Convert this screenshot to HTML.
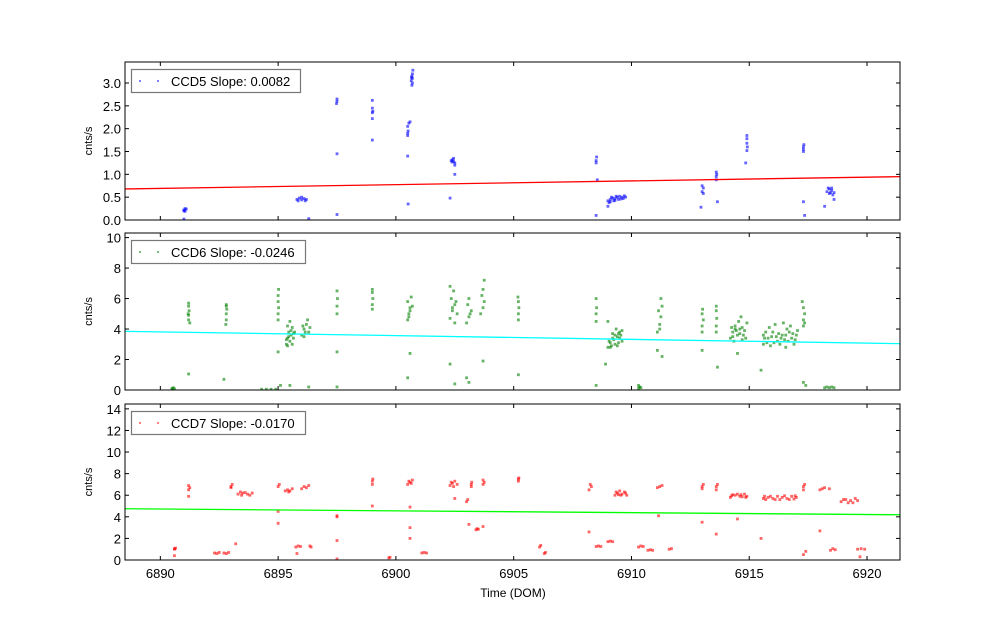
<!DOCTYPE html>
<html><head><meta charset="utf-8"><style>
body{margin:0;background:#fff}
svg text{font-family:"Liberation Sans",sans-serif;fill:#000}
</style></head><body>
<svg id="chart" width="1000" height="624" viewBox="0 0 1000 624" xmlns="http://www.w3.org/2000/svg"></svg>
<script>
const xTicks=[6890,6895,6900,6905,6910,6915,6920];
const ccd5Ticks=[0,0.5,1.0,1.5,2.0,2.5,3.0];
const ccd6Ticks=[0,2,4,6,8,10];
const ccd7Ticks=[0,2,4,6,8,10,12,14];
const slopes=[0.0082,-0.0246,-0.0170];
const intercepts=[0.68,3.85,4.75];
const labels=["CCD5 Slope: 0.0082","CCD6 Slope: -0.0246","CCD7 Slope: -0.0170"];
const ccd5Points=[[6891.0,0.22],[6891.05,0.25],[6891.0,0.2],[6891.1,0.24],[6891.05,0.19],[6891.0,0.02],
[6895.8,0.45],[6895.9,0.48],[6896.0,0.44],[6896.1,0.47],[6896.2,0.45],[6896.0,0.5],[6895.85,0.42],[6896.15,0.42],[6896.3,0.03],
[6897.5,2.6],[6897.5,2.65],[6897.48,2.55],[6897.5,1.45],[6897.5,0.12],
[6899.0,2.62],[6899.0,2.45],[6899.02,2.38],[6899.0,2.35],[6899.0,2.22],[6899.0,1.75],
[6900.5,1.9],[6900.52,1.95],[6900.5,2.05],[6900.55,2.12],[6900.5,1.85],[6900.6,2.15],[6900.5,1.4],[6900.52,0.35],
[6900.65,3.05],[6900.7,3.1],[6900.68,3.15],[6900.7,3.2],[6900.72,3.28],[6900.68,2.95],[6900.7,3.0],[6900.66,3.12],
[6902.35,1.3],[6902.4,1.32],[6902.45,1.28],[6902.5,1.25],[6902.45,1.35],[6902.5,1.2],[6902.5,1.0],[6902.3,0.48],[6902.38,1.27],
[6908.5,1.25],[6908.5,1.3],[6908.52,1.38],[6908.55,0.88],[6908.5,0.1],
[6909.0,0.42],[6909.1,0.45],[6909.2,0.48],[6909.3,0.47],[6909.4,0.5],[6909.5,0.52],[6909.6,0.5],[6909.7,0.53],[6909.15,0.5],[6909.45,0.45],[6909.05,0.38],[6909.25,0.42],[6909.55,0.46],[6909.0,0.3],
[6909.35,0.52],[6909.65,0.47],[6909.75,0.5],[6909.1,0.4],[6909.3,0.43],
[6913.0,0.62],[6913.05,0.7],[6913.0,0.75],[6913.05,0.58],[6912.95,0.28],
[6913.6,0.95],[6913.62,1.0],[6913.6,1.05],[6913.6,0.88],[6913.65,0.4],
[6914.9,1.85],[6914.9,1.78],[6914.9,1.68],[6914.92,1.6],[6914.9,1.52],[6914.85,1.25],
[6917.3,1.55],[6917.3,1.6],[6917.32,1.65],[6917.3,1.5],[6917.3,0.4],[6917.35,0.1],
[6918.3,0.62],[6918.4,0.68],[6918.5,0.65],[6918.6,0.6],[6918.35,0.7],[6918.55,0.55],[6918.45,0.6],[6918.2,0.3],[6918.6,0.45],[6918.4,0.58],[6918.5,0.7]];
const ccd6Points=[[6890.5,0.1],[6890.55,0.15],[6890.6,0.08],[6890.5,0.05],
[6891.2,4.6],[6891.2,4.9],[6891.22,5.2],[6891.2,5.5],[6891.25,4.4],[6891.2,5.7],[6891.18,5.0],[6891.2,1.05],
[6892.8,4.6],[6892.8,5.0],[6892.82,5.3],[6892.8,5.6],[6892.78,4.3],[6892.8,5.5],[6892.7,0.7],
[6894.3,0.05],[6894.5,0.05],[6894.7,0.05],[6894.9,0.05],
[6895.0,4.6],[6895.0,5.0],[6895.02,5.4],[6895.0,5.8],[6895.0,6.2],[6895.02,6.6],[6895.0,2.5],[6895.1,0.3],
[6895.35,3.0],[6895.4,3.4],[6895.45,3.8],[6895.5,3.2],[6895.55,3.6],[6895.6,4.1],[6895.65,3.4],[6895.5,4.5],[6895.4,2.9],[6895.6,3.0],[6895.7,3.8],[6895.45,3.5],[6895.5,0.3],
[6895.55,3.9],[6895.35,3.3],[6895.65,3.7],[6895.4,4.2],
[6896.0,3.6],[6896.1,4.0],[6896.2,4.3],[6896.3,3.8],[6896.1,3.5],[6896.25,4.6],[6896.05,4.2],[6896.35,4.1],[6896.15,3.8],[6896.3,0.2],
[6897.5,5.0],[6897.5,5.5],[6897.52,6.0],[6897.5,6.5],[6897.5,2.5],[6897.5,0.2],
[6899.0,5.3],[6899.0,5.6],[6899.02,6.0],[6899.0,6.4],[6899.0,6.6],
[6900.5,4.6],[6900.55,5.0],[6900.6,5.4],[6900.5,5.8],[6900.65,6.1],[6900.6,5.2],[6900.55,4.8],[6900.7,5.5],[6900.6,2.4],[6900.5,0.8],
[6902.3,4.7],[6902.4,5.2],[6902.5,5.6],[6902.35,6.0],[6902.45,6.5],[6902.6,5.0],[6902.55,5.8],[6902.3,6.8],[6902.5,4.4],[6902.4,5.4],[6902.5,0.4],[6902.3,1.7],
[6903.0,4.4],[6903.1,4.8],[6903.2,5.2],[6903.05,5.6],[6903.15,5.0],[6903.1,6.0],[6903.1,0.5],[6903.0,0.8],
[6903.6,5.0],[6903.7,5.4],[6903.75,5.8],[6903.65,6.2],[6903.7,6.6],[6903.75,7.2],[6903.7,1.9],
[6905.2,4.6],[6905.2,5.0],[6905.22,5.4],[6905.2,5.8],[6905.18,6.1],[6905.2,1.0],
[6908.5,4.5],[6908.5,5.0],[6908.52,5.4],[6908.5,6.0],[6908.5,0.3],
[6909.0,2.8],[6909.1,3.1],[6909.2,3.4],[6909.3,3.0],[6909.4,3.5],[6909.5,3.8],[6909.6,3.2],[6909.35,4.0],[6909.15,2.9],[6909.55,3.6],[6909.25,3.3],[6909.45,3.1],[6909.0,4.5],[6908.9,1.7],
[6909.05,3.2],[6909.2,3.7],[6909.4,2.9],[6909.5,3.4],[6909.6,3.9],[6909.3,3.6],[6909.1,2.8],[6909.45,3.7],
[6910.3,0.1],[6910.35,0.2],[6910.3,0.3],[6910.4,0.15],
[6911.1,3.8],[6911.2,4.3],[6911.25,4.8],[6911.15,5.2],[6911.2,4.0],[6911.3,5.5],[6911.25,6.0],[6911.1,2.6],[6911.3,2.2],
[6913.0,3.8],[6913.0,4.2],[6913.05,4.6],[6913.0,5.0],[6913.02,5.3],[6913.0,2.6],
[6913.6,3.8],[6913.6,4.2],[6913.62,4.7],[6913.6,5.2],[6913.6,5.5],[6913.65,1.5],
[6914.2,3.4],[6914.3,3.8],[6914.4,4.2],[6914.5,3.6],[6914.6,4.0],[6914.7,3.3],[6914.8,3.9],[6914.9,4.4],[6914.35,3.2],[6914.55,4.5],[6914.75,3.6],[6914.45,3.9],[6914.65,4.8],[6914.25,4.1],[6914.5,2.4],
[6914.3,3.5],[6914.6,3.7],[6914.85,3.4],[6914.4,4.0],[6914.7,4.1],
[6915.6,3.0],[6915.8,3.4],[6916.0,3.8],[6916.2,3.2],[6916.4,3.6],[6916.6,4.0],[6916.8,3.4],[6917.0,3.6],[6915.7,3.8],[6915.9,2.9],[6916.1,4.3],[6916.3,3.0],[6916.5,3.3],[6916.7,3.8],[6916.9,3.0],[6916.15,3.5],[6916.45,4.4],[6916.75,4.2],[6915.85,4.1],[6916.55,2.8],[6915.5,1.3],
[6915.65,3.4],[6915.75,3.1],[6915.95,3.5],[6916.05,3.1],[6916.25,3.7],[6916.35,3.4],[6916.55,3.6],[6916.65,3.2],[6916.85,3.7],[6916.95,3.3],[6917.05,3.9],[6915.6,3.6],
[6917.3,4.2],[6917.3,4.6],[6917.35,5.0],[6917.3,5.4],[6917.25,5.8],[6917.35,4.4],[6917.3,0.5],[6917.4,0.3],
[6918.2,0.15],[6918.4,0.15],[6918.6,0.15],[6918.3,0.2],[6918.5,0.2]];
const ccd7Points=[[6890.6,1.0],[6890.65,1.1],[6890.6,1.05],[6890.6,0.4],
[6891.2,6.5],[6891.25,6.7],[6891.2,6.9],[6891.2,5.9],
[6892.3,0.65],[6892.5,0.7],[6892.7,0.65],[6892.9,0.7],[6892.4,0.6],[6892.8,0.6],
[6893.0,6.8],[6893.05,7.0],[6893.0,6.7],
[6893.3,6.1],[6893.5,6.2],[6893.7,6.1],[6893.9,6.2],[6893.4,6.3],[6893.8,6.0],[6893.2,1.5],[6893.6,6.25],[6893.45,6.0],
[6895.0,6.8],[6895.05,7.0],[6895.0,4.5],[6895.0,3.4],
[6895.3,6.4],[6895.4,6.5],[6895.5,6.4],[6895.6,6.6],[6895.45,6.3],
[6895.75,1.2],[6895.85,1.3],[6895.95,1.25],[6895.8,0.6],
[6896.0,6.6],[6896.1,6.8],[6896.2,6.7],[6896.3,6.9],[6896.35,1.3],[6896.4,1.2],
[6897.5,4.0],[6897.5,4.1],[6897.5,1.8],[6897.5,0.1],
[6899.0,7.0],[6899.0,7.3],[6899.02,7.5],[6899.0,5.0],
[6899.7,0.2],[6899.75,0.25],
[6900.5,7.0],[6900.6,7.2],[6900.7,7.4],[6900.55,7.3],[6900.65,7.1],[6900.6,4.9],[6900.6,3.0],[6900.6,2.0],
[6901.1,0.65],[6901.2,0.7],[6901.3,0.65],
[6902.3,6.9],[6902.4,7.1],[6902.5,7.3],[6902.6,7.0],[6902.45,6.8],[6902.35,7.2],[6902.5,5.7],
[6903.0,5.4],[6903.05,5.6],[6903.1,3.3],[6903.2,6.8],[6903.2,7.0],[6903.22,7.2],
[6903.4,2.8],[6903.45,2.9],[6903.5,2.85],
[6903.7,7.0],[6903.75,7.2],[6903.7,7.4],[6903.7,3.1],
[6905.2,7.3],[6905.2,7.5],[6905.22,7.6],
[6906.1,1.2],[6906.15,1.35],[6906.3,0.6],[6906.35,0.7],
[6908.2,6.5],[6908.3,6.8],[6908.25,7.0],[6908.5,1.25],[6908.6,1.3],[6908.7,1.25],[6908.2,2.6],
[6909.0,1.7],[6909.1,1.75],[6909.2,1.7],
[6909.3,6.0],[6909.4,6.2],[6909.5,6.4],[6909.6,6.1],[6909.7,6.3],[6909.8,6.0],[6909.45,6.05],[6909.35,6.3],[6909.55,6.0],[6909.75,6.2],
[6910.3,1.2],[6910.4,1.3],[6910.5,1.25],
[6910.7,0.9],[6910.8,0.95],[6910.9,0.9],
[6911.1,6.7],[6911.2,6.8],[6911.3,6.9],[6911.15,4.1],
[6911.6,1.0],[6911.7,1.05],
[6913.0,6.6],[6913.0,6.8],[6913.05,7.0],[6913.0,3.5],
[6913.6,6.5],[6913.6,6.8],[6913.65,7.0],[6913.6,2.4],
[6914.2,5.8],[6914.4,6.0],[6914.6,5.9],[6914.8,6.1],[6914.9,5.9],[6914.3,6.05],[6914.7,5.85],[6914.5,3.8],[6914.5,6.1],[6914.25,5.95],[6914.65,6.05],[6914.85,5.8],
[6915.6,5.7],[6915.8,5.8],[6916.0,5.7],[6916.2,5.9],[6916.4,5.8],[6916.6,5.7],[6916.8,5.9],[6917.0,5.8],[6915.7,5.6],[6916.3,5.6],[6916.9,5.65],[6915.5,2.0],
[6915.9,5.9],[6916.1,5.6],[6916.5,5.95],[6916.7,5.6],[6915.65,5.9],[6916.95,5.95],
[6917.3,6.5],[6917.3,6.8],[6917.35,7.0],[6917.3,0.5],[6917.4,0.8],
[6918.0,6.5],[6918.2,6.7],[6918.4,6.6],[6918.1,6.6],[6918.0,2.7],
[6918.45,0.9],[6918.55,1.05],[6918.65,0.95],
[6918.9,5.4],[6919.1,5.6],[6919.3,5.5],[6919.5,5.7],[6919.6,5.5],[6919.2,5.3],[6919.0,5.6],[6919.4,5.3],
[6919.6,1.0],[6919.75,1.05],[6919.9,1.0],[6919.7,0.3]];

const NS="http://www.w3.org/2000/svg";
const svg=document.getElementById('chart');
const XL=125,XR=900,XMIN=6888.5,XMAX=6921.4;
const panels=[
 {top:62,bot:220,ymax:3.46,ticks:ccd5Ticks,pts:ccd5Points,col:'#0000ff',fit:'#ff0000',fmt:v=>v.toFixed(1),lw:169},
 {top:233,bot:390,ymax:10.3,ticks:ccd6Ticks,pts:ccd6Points,col:'#008000',fit:'#00ffff',fmt:v=>String(v),lw:174},
 {top:404,bot:560,ymax:14.45,ticks:ccd7Ticks,pts:ccd7Points,col:'#ff0000',fit:'#00ff00',fmt:v=>String(v),lw:174}];
function xs(v){return XL+(v-XMIN)/(XMAX-XMIN)*(XR-XL);}
function mk(tag,attrs,parent){const e=document.createElementNS(NS,tag);for(const k in attrs)e.setAttribute(k,attrs[k]);(parent||svg).appendChild(e);return e;}
panels.forEach((p,i)=>{
 const ys=v=>p.bot-v/p.ymax*(p.bot-p.top);
 const g=mk('g',{});
 
 
 const clip='clip'+i;
 const cp=mk('clipPath',{id:clip},g);mk('rect',{x:XL,y:p.top,width:XR-XL,height:p.bot-p.top},cp);
 const pg=mk('g',{'clip-path':'url(#'+clip+')'},g);
 p.pts.forEach(d=>{
  const r=mk('rect',{x:xs(d[0])-1.4,y:ys(d[1])-1.4,width:2.8,height:2.8,fill:p.col,'fill-opacity':0.6},pg);
  
  
 });
 const ln=mk('line',{x1:xs(XMIN),y1:ys(intercepts[i]),x2:xs(XMAX),y2:ys(intercepts[i]+slopes[i]*(XMAX-XMIN)),stroke:p.fit,'stroke-width':1.3},pg);
 
 
 const fr=mk('rect',{x:XL,y:p.top,width:XR-XL,height:p.bot-p.top,fill:'none',stroke:'#000','stroke-width':1},g);
 
 
 xTicks.forEach(t=>{const x=xs(t);
  mk('line',{x1:x,y1:p.bot,x2:x,y2:p.bot-4,stroke:'#000'},g);
  mk('line',{x1:x,y1:p.top,x2:x,y2:p.top+4,stroke:'#000'},g);
  if(i===2){const tx=mk('text',{x:x,y:p.bot+18,'text-anchor':'middle','font-size':13},g);tx.textContent=t;
   
   }
 });
 p.ticks.forEach(t=>{const y=ys(t);
  mk('line',{x1:XL,y1:y,x2:XL+4,y2:y,stroke:'#000'},g);
  mk('line',{x1:XR,y1:y,x2:XR-4,y2:y,stroke:'#000'},g);
  const tx=mk('text',{x:XL-4,y:y+5,'text-anchor':'end','font-size':13},g);tx.textContent=p.fmt(t);
  
  
 });
 const yl=mk('text',{x:0,y:0,transform:'translate('+92+','+((p.top+p.bot)/2)+') rotate(-90)','text-anchor':'middle','font-size':11},g);
 yl.textContent='cnts/s';
 
 
 const lg=mk('g',{},g);
 
 
 mk('rect',{x:131.5,y:p.top+7.5,width:p.lw,height:23,fill:'#fff',stroke:'#777','stroke-width':1.2},lg);
 mk('rect',{x:139,y:p.top+18,width:2,height:2,fill:p.col,'fill-opacity':0.5},lg);
 mk('rect',{x:157,y:p.top+18,width:2,height:2,fill:p.col,'fill-opacity':0.5},lg);
 const lt=mk('text',{x:171,y:p.top+24,'font-size':13},lg);lt.textContent=labels[i];
});
const xt=mk('text',{x:513,y:597,'text-anchor':'middle','font-size':12});
xt.textContent='Time (DOM)';


</script>
</body></html>
